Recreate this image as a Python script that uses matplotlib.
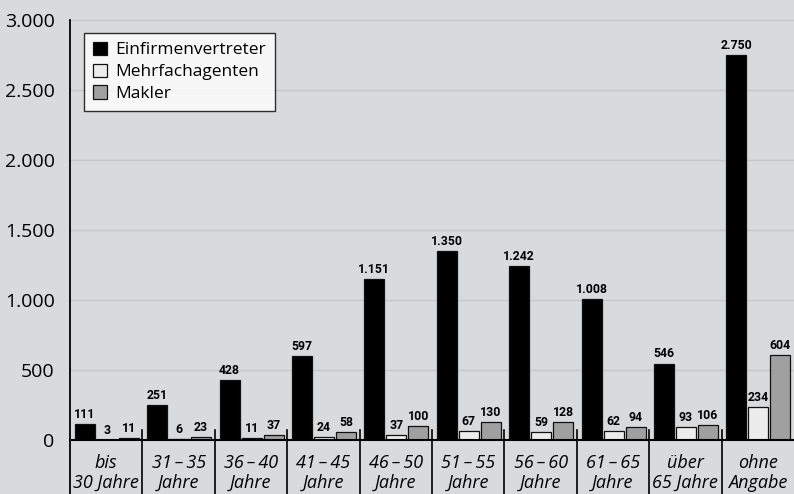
import numpy as np
import matplotlib.pyplot as plt
import matplotlib.transforms as mtransforms

# age groups and counts per distribution channel
groups = ["bis\n30 Jahre", "31\u2009\u2013\u200935\nJahre", "36\u2009\u2013\u200940\nJahre",
          "41\u2009\u2013\u200945\nJahre", "46\u2009\u2013\u200950\nJahre", "51\u2009\u2013\u200955\nJahre",
          "56\u2009\u2013\u200960\nJahre", "61\u2009\u2013\u200965\nJahre", "über\n65 Jahre", "ohne\nAngabe"]
einfirmen = [111, 251, 428, 597, 1151, 1350, 1242, 1008, 546, 2750]
mehrfach = [3, 6, 11, 24, 37, 67, 59, 62, 93, 234]
makler = [11, 23, 37, 58, 100, 130, 128, 94, 106, 604]
yticks = [0, 500, 1000, 1500, 2000, 2500, 3000]

series = [("Einfirmenvertreter", einfirmen, "#000000"),
          ("Mehrfachagenten", mehrfach, "#ececec"),
          ("Makler", makler, "#a0a0a0")]

bg = "#d9dadc"
plt.rcParams["font.family"] = ["Open Sans", "DejaVu Sans"]

fig = plt.figure(figsize=(7.94, 4.94), dpi=100, facecolor=bg)
ax = fig.add_axes([70 / 794, 1 - 440 / 494, 1 - 70 / 794, 420 / 494])
ax.set_facecolor(bg)

def fmt(v):
    return f"{v:,}".replace(",", ".")

x = np.arange(len(groups))
w = 20 / 72.4
step = 22 / 72.4
offsets = [-step, 0, step]
for (name, vals, col), off in zip(series, offsets):
    bars = ax.bar(x + off + 0.008, vals, width=w, color=col, edgecolor="#111111",
                  linewidth=0.9, label=name, zorder=3)
    for b, v in zip(bars, vals):
        ax.text(b.get_x() + b.get_width() / 2, v + 22, fmt(v), ha="center", va="bottom",
                fontsize=8.8, fontweight="bold", family=["Roboto", "DejaVu Sans"],
                zorder=4)

ax.set_xlim(-0.5, len(groups) - 0.5)
ax.set_ylim(0, 3000)
ax.set_yticks(yticks)
ax.set_yticklabels([fmt(t) for t in yticks], fontsize=14)
ax.tick_params(axis="y", length=0, pad=11)
ax.set_xticks([])
ax.grid(axis="y", color="#c6c7c9", linewidth=1, zorder=0)
ax.set_axisbelow(True)
for s in ["top", "right"]:
    ax.spines[s].set_visible(False)
ax.spines["left"].set_visible(False)
ax.spines["bottom"].set_linewidth(1.5)
ax.spines["bottom"].set_zorder(5)

# y axis line running down through the label area, plus group separators
trans = mtransforms.blended_transform_factory(ax.transData, ax.transAxes)
ax.plot([-0.5, -0.5], [-0.13, 1.0], transform=trans, color="black", lw=1.3, clip_on=False)
for i in range(1, len(groups)):
    ax.plot([i - 0.5, i - 0.5], [-0.13, 0.025], transform=trans, color="black", lw=1.2,
            clip_on=False)

for i, g in enumerate(groups):
    ax.text(i, -0.033, g, transform=trans, ha="center", va="top", fontsize=13,
            fontstyle="italic", linespacing=1.15)

leg = ax.legend(loc="upper left", bbox_to_anchor=(14 / 724, 1 - 13 / 420), fontsize=12.5,
                frameon=True, fancybox=False, edgecolor="black", handlelength=0.8,
                handleheight=0.8, handletextpad=0.5, borderpad=0.5, labelspacing=0.3,
                borderaxespad=0)
leg.get_frame().set_linewidth(1.0)
leg.get_frame().set_facecolor("white")

fig.savefig("out.png", dpi=100, facecolor=bg)
